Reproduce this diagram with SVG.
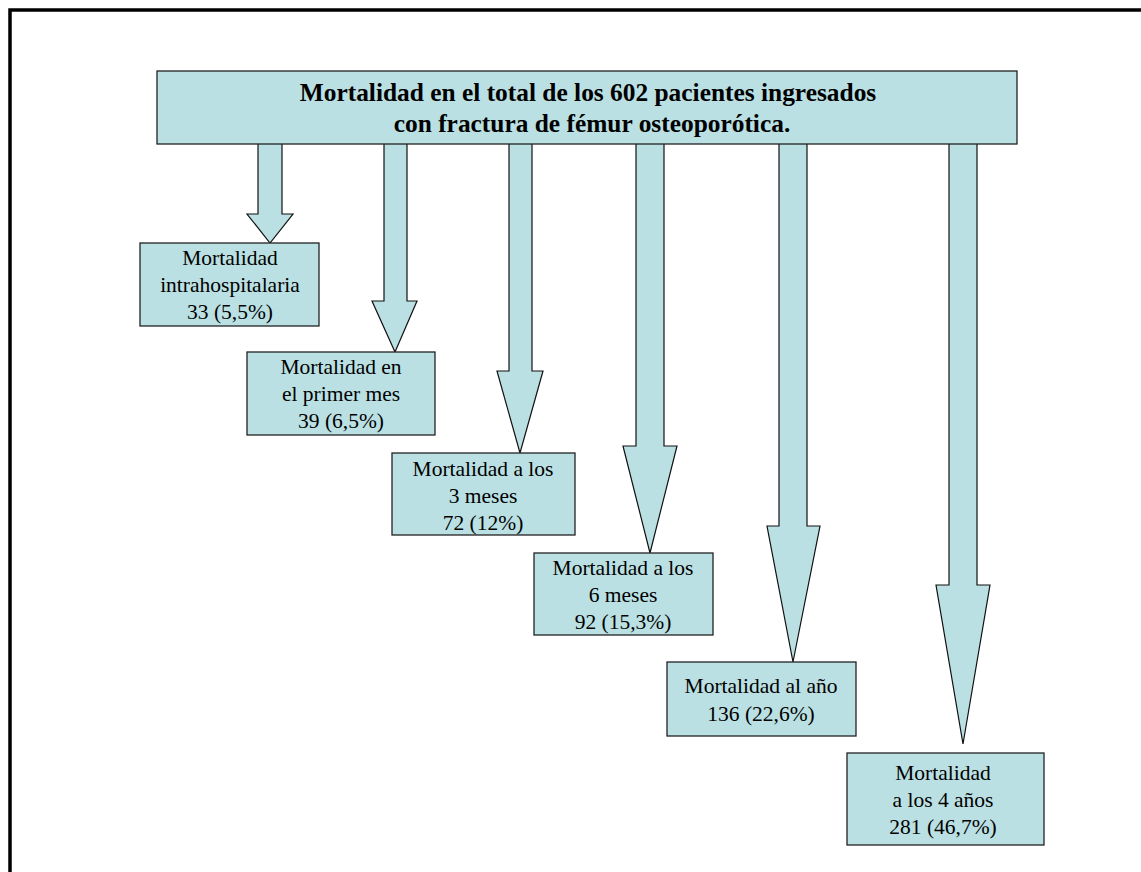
<svg xmlns="http://www.w3.org/2000/svg" width="1141" height="872" viewBox="0 0 1141 872">
<style>
.box{fill:#BAE0E3;stroke:#222;stroke-width:1.3}
.arr{fill:#BAE0E3;stroke:#111;stroke-width:1.2;stroke-linejoin:miter}
.t{font-family:"Liberation Serif","Times New Roman",serif;font-size:21.5px;fill:#000;text-anchor:middle}
.tb{font-family:"Liberation Serif","Times New Roman",serif;font-size:25.4px;font-weight:bold;fill:#000;text-anchor:middle}
</style>
<rect x="0" y="0" width="1141" height="872" fill="#fff"/>
<rect x="10" y="10" width="1200" height="900" fill="none" stroke="#000" stroke-width="3.5"/>
<g id="connectors">
<polygon class="arr" points="258,143 282,143 282,214 293,214 270,243 247,214 258,214"/>
<polygon class="arr" points="384,143 407,143 407,301 417,301 395,352 372,301 384,301"/>
<polygon class="arr" points="509,143 532,143 532,371 543,371 520,453 497,371 509,371"/>
<polygon class="arr" points="636,143 664,143 664,446 677,446 650,553 623,446 636,446"/>
<polygon class="arr" points="779,143 807,143 807,526 820,526 793,662 767,526 779,526"/>
<polygon class="arr" points="949,143 977,143 977,585 990,585 963,744 936,585 949,585"/>
</g>
<g id="top">
<rect class="box" x="157" y="71" width="860" height="73"/>
<text class="tb" x="588" y="101">Mortalidad en el total de los 602 pacientes ingresados</text>
<text class="tb" x="592" y="132">con fractura de fémur osteoporótica.</text>
</g>
<g id="n1">
<rect class="box" x="140" y="243" width="179" height="83"/>
<text class="t" x="230" y="265">Mortalidad</text>
<text class="t" x="230" y="292">intrahospitalaria</text>
<text class="t" x="230" y="319">33 (5,5%)</text>
</g>
<g id="n2">
<rect class="box" x="247" y="352" width="188" height="83"/>
<text class="t" x="341" y="374">Mortalidad en</text>
<text class="t" x="341" y="401">el primer mes</text>
<text class="t" x="341" y="428">39 (6,5%)</text>
</g>
<g id="n3">
<rect class="box" x="392" y="453" width="183" height="82"/>
<text class="t" x="483" y="476">Mortalidad a los</text>
<text class="t" x="483" y="503">3 meses</text>
<text class="t" x="483" y="530">72 (12%)</text>
</g>
<g id="n4">
<rect class="box" x="534" y="553" width="179" height="82"/>
<text class="t" x="623" y="575">Mortalidad a los</text>
<text class="t" x="623" y="602">6 meses</text>
<text class="t" x="623" y="629">92 (15,3%)</text>
</g>
<g id="n5">
<rect class="box" x="667" y="662" width="189" height="74"/>
<text class="t" x="761" y="693">Mortalidad al año</text>
<text class="t" x="761" y="721">136 (22,6%)</text>
</g>
<g id="n6">
<rect class="box" x="847" y="753" width="197" height="92"/>
<text class="t" x="943" y="780">Mortalidad</text>
<text class="t" x="943" y="807">a los 4 años</text>
<text class="t" x="943" y="834">281 (46,7%)</text>
</g>
</svg>
